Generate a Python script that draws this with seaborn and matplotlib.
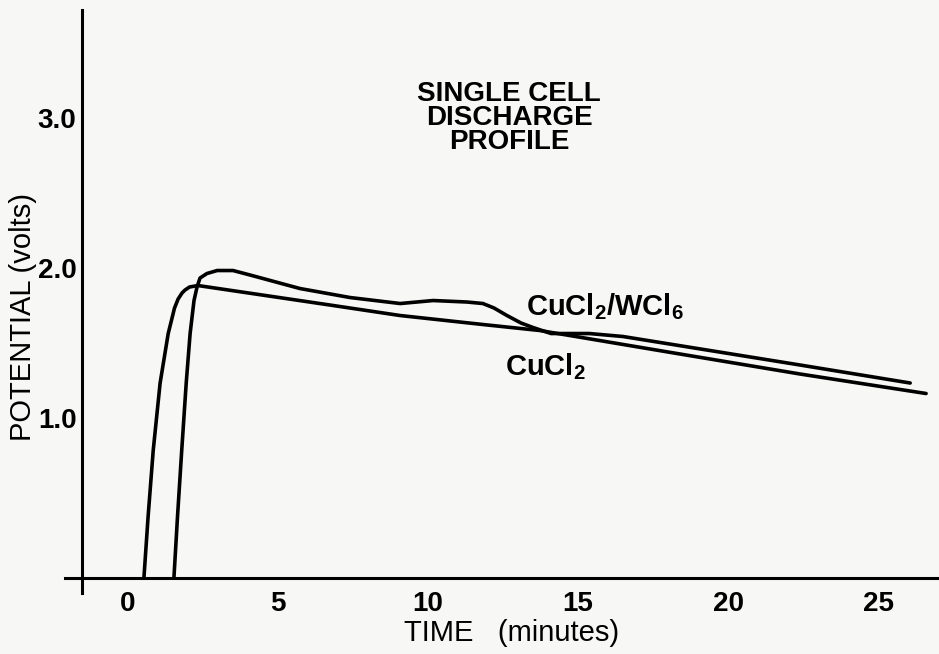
import matplotlib
matplotlib.use('Agg')
import matplotlib.pyplot as plt
import pandas as pd
import seaborn as sns

# Discharge curves (time in minutes, potential in volts)
cucl2_time = [0.53, 0.67, 0.84, 1.07, 1.34, 1.55, 1.67, 1.8, 1.9, 2.05, 2.33, 6.73, 9.07, 11.83, 13.73, 18.2, 22.4, 26.6]
cucl2_volts = [0.0, 0.41, 0.85, 1.3, 1.63, 1.8, 1.86, 1.9, 1.92, 1.94, 1.95, 1.82, 1.75, 1.69, 1.65, 1.50, 1.36, 1.23]

wcl6_time = [1.53, 1.65, 1.79, 1.94, 2.07, 2.2, 2.3, 2.4, 2.63, 2.97, 3.5, 4.07, 5.73, 7.4, 9.07, 10.17,
             11.3, 11.83, 12.2, 12.63, 13.1, 13.5, 14.1, 15.37, 16.5, 22.4, 26.07]
wcl6_volts = [0.0, 0.41, 0.85, 1.3, 1.63, 1.85, 1.94, 2.0, 2.03, 2.05, 2.05, 2.02, 1.93, 1.87, 1.83, 1.85,
              1.84, 1.83, 1.80, 1.75, 1.70, 1.67, 1.63, 1.63, 1.61, 1.42, 1.30]

x_ticks = [0, 5, 10, 15, 20, 25]
y_ticks = [1.0, 2.0, 3.0]
y_tick_labels = ['1.0', '2.0', '3.0']

sns.set_style('white')
plt.rcParams['font.family'] = ['Liberation Sans', 'DejaVu Sans']
plt.rcParams['mathtext.fontset'] = 'custom'
plt.rcParams['mathtext.rm'] = 'Liberation Sans:bold'
plt.rcParams['mathtext.default'] = 'rm'
for key in ['text.color', 'axes.labelcolor', 'xtick.color', 'ytick.color']:
    plt.rcParams[key] = 'black'

df = pd.concat([
    pd.DataFrame({'time': cucl2_time, 'volts': cucl2_volts, 'cell': 'CuCl2'}),
    pd.DataFrame({'time': wcl6_time, 'volts': wcl6_volts, 'cell': 'CuCl2/WCl6'}),
])

paper = '#f7f7f5'
fig = plt.figure(figsize=(9.39, 6.54), dpi=100, facecolor=paper)
ax = fig.add_axes([65 / 939, 61 / 654, 874 / 939, 583 / 654], facecolor=paper)

sns.lineplot(data=df, x='time', y='volts', hue='cell', units='cell', estimator=None,
             palette=['black', 'black'], linewidth=2.6, legend=False, ax=ax)

ax.set_xlim(-2.1, 27.03)
ax.set_ylim(-0.1, 3.787)

# hand-drawn style axes crossing near the origin
for side in ['top', 'right']:
    ax.spines[side].set_visible(False)
ax.spines['left'].set_position(('data', -1.53))
ax.spines['bottom'].set_position(('data', 0))
for side in ['left', 'bottom']:
    ax.spines[side].set_linewidth(2.2)
    ax.spines[side].set_color('black')

ax.set_xticks(x_ticks)
ax.set_xticklabels([str(t) for t in x_ticks], fontsize=20, fontweight='bold')
ax.set_yticks(y_ticks)
ax.set_yticklabels(y_tick_labels, fontsize=20, fontweight='bold')
ax.tick_params(axis='x', direction='out', length=5, width=2, pad=4)
ax.tick_params(axis='y', direction='out', length=4, width=2, pad=0)
for lab in ax.get_yticklabels():
    lab.set_verticalalignment('baseline')

ax.set_xlabel('TIME   (minutes)', fontsize=21)
ax.set_ylabel('POTENTIAL (volts)', fontsize=21)
ax.xaxis.set_label_coords((512 - 65) / 874, (593 - 619) / 583)
ax.yaxis.set_label_coords((37 - 65) / 874, (593 - 317) / 583)

ax.text(12.7, 3.07, 'SINGLE CELL\nDISCHARGE\nPROFILE', ha='center', va='center',
        fontsize=20, fontweight='bold', linespacing=0.9)
ax.text(13.27, 1.75, r'CuCl$_2$/WCl$_6$', ha='left', va='baseline', fontsize=21, fontweight='bold')
ax.text(12.57, 1.353, r'CuCl$_2$', ha='left', va='baseline', fontsize=21, fontweight='bold')

fig.savefig('out.png', dpi=100, facecolor=paper)
